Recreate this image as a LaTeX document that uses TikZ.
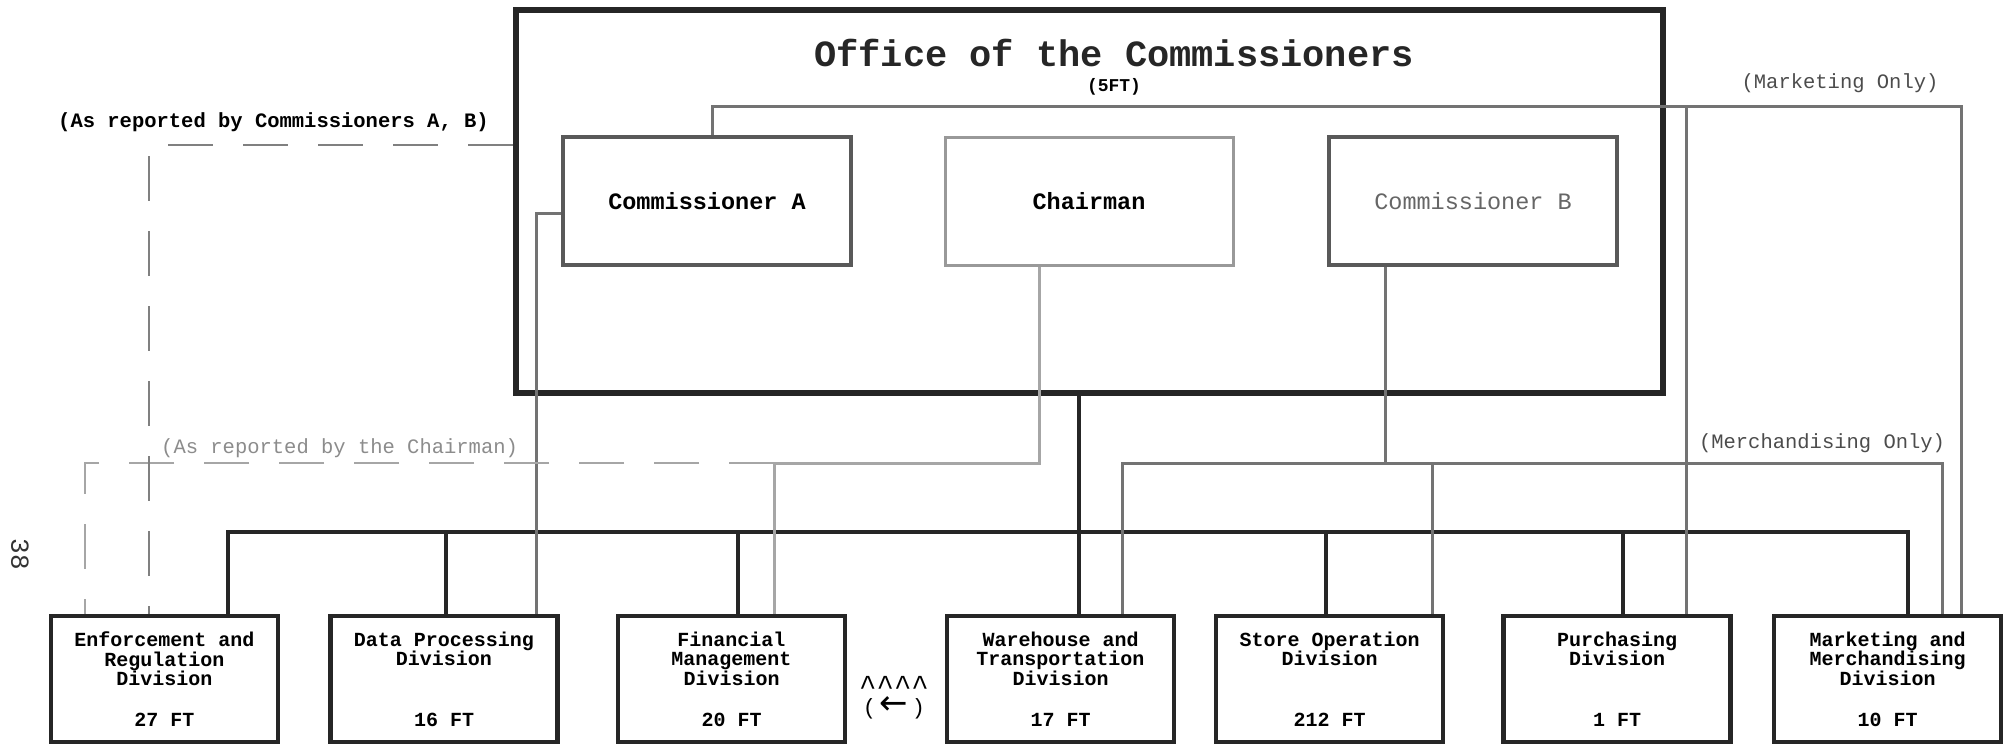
\documentclass[tikz,border=0pt]{standalone}
\usepackage{fontspec}
\setmainfont{Liberation Mono}
\newfontfamily\arrowfont{DejaVu Sans}
\usetikzlibrary{positioning}

\begin{document}
\begin{tikzpicture}
  [x=1pt,y=-1pt,
   office/.style={draw=black!85,line width=6pt,minimum width=1147pt,minimum height=383pt,inner sep=0pt},
   commbox/.style={draw=black!65,line width=4pt,minimum width=288pt,minimum height=128pt,font=\bfseries\fontsize{23.5}{26}\selectfont},
   divbox/.style={draw=black!85,line width=4.5pt,minimum width=227pt,minimum height=126pt},
   divname/.style={inner sep=0pt,align=center,font=\bfseries\fontsize{20}{19.5}\selectfont},
   divft/.style={inner sep=0pt,font=\bfseries\fontsize{20}{20}\selectfont},
   note/.style={inner sep=0pt,font=\fontsize{20.5}{22}\selectfont},
   bus/.style={draw=black!85,line width=4pt},
   commline/.style={draw=black!55,line width=3pt},
   chairline/.style={draw=black!35,line width=3pt},
   commdash/.style={draw=black!50,line width=1.5pt,dash pattern=on 45pt off 30pt},
   chairdash/.style={draw=black!35,line width=1.5pt,dash pattern=on 45pt off 30pt}]

  \path[use as bounding box,fill=white] (0,0) rectangle (2005,745);

  \node[office] (office) at (1089.3,201.5) {};
  \node[font=\bfseries\fontsize{37}{40}\selectfont,text=black!85] (title) at (1114,53) {Office of the Commissioners};
  \node[note,font=\bfseries\fontsize{18}{20}\selectfont] (staff) at (1114,87) {(5FT)};

  \node[commbox] (cA) at (707,201) {Commissioner A};
  \node[commbox,draw=black!40,line width=3pt] (chair) at (1089,201) {Chairman};
  \node[commbox,font=\fontsize{23.5}{26}\selectfont,text=black!60] (cB) at (1473,201) {Commissioner B};

  \node[divbox] (dEnf) at (164.5,679) {};
  \node[divbox] (dDP) at (444,679) {};
  \node[divbox] (dFM) at (731.5,679) {};
  \node[divbox] (dWar) at (1060.5,679) {};
  \node[divbox] (dSto) at (1329.5,679) {};
  \node[divbox] (dPur) at (1617,679) {};
  \node[divbox] (dMkt) at (1887.5,679) {};

  \node[divname,below=18pt of dEnf.north] {Enforcement and\\Regulation\\Division};
  \node[divname,below=18pt of dDP.north] {Data Processing\\Division};
  \node[divname,below=18pt of dFM.north] {Financial\\Management\\Division};
  \node[divname,below=18pt of dWar.north] {Warehouse and\\Transportation\\Division};
  \node[divname,below=18pt of dSto.north] {Store Operation\\Division};
  \node[divname,below=18pt of dPur.north] {Purchasing\\Division};
  \node[divname,below=18pt of dMkt.north] {Marketing and\\Merchandising\\Division};

  \node[divft,above=17.5pt of dEnf.south] {27 FT};
  \node[divft,above=17.5pt of dDP.south] {16 FT};
  \node[divft,above=17.5pt of dFM.south] {20 FT};
  \node[divft,above=17.5pt of dWar.south] {17 FT};
  \node[divft,above=17.5pt of dSto.south] {212 FT};
  \node[divft,above=17.5pt of dPur.south] {1 FT};
  \node[divft,above=17.5pt of dMkt.south] {10 FT};

  \node[note,font=\bfseries\fontsize{20.5}{22}\selectfont,anchor=west] (rA) at (58,122) {(As reported by Commissioners A, B)};
  \node[note,text=black!45,anchor=west] (rC) at (161,448) {(As reported by the Chairman)};
  \node[note,text=black!70] (mOnly) at (1840,83) {(Marketing Only)};
  \node[note,text=black!70] (mdOnly) at (1822,443) {(Merchandising Only)};

  \node[inner sep=0pt,align=center,font=\fontsize{22}{16}\selectfont] (back) at (894,698)
    {{\fontsize{29}{16}\selectfont\textasciicircum\textasciicircum\textasciicircum\textasciicircum}\\(\,{\arrowfont\fontsize{34}{16}\selectfont ←}\,)};
  \node[rotate=-90,font=\fontsize{26}{26}\selectfont,text=black!80] (page) at (20,554) {38};

  \coordinate (bus) at (1079,532);
  \coordinate (mktA) at (1961,106);
  \coordinate (purA) at (1686,106);
  \coordinate (fmC) at (774,463);
  \coordinate (mktB) at (1942,463);
  \coordinate (stoB) at (1432,463);

  \draw[bus] ([xshift=63.5pt]dEnf.north) |- (bus) -| ([xshift=20.5pt]dMkt.north);
  \draw[bus] (office.south -| bus) -- (dWar.north -| bus);
  \foreach \d/\dx in {dDP/1.5pt,dFM/6.5pt,dSto/-4pt,dPur/6pt}
    \draw[bus] ([xshift=\dx]\d.north) -- ([xshift=\dx]\d.north |- bus);

  \draw[commline] ([xshift=5pt]cA.north) |- (mktA) -- (dMkt.north -| mktA);
  \draw[commline] (purA) -- (dPur.north -| purA);
  \draw[commline] ([yshift=-12pt]cA.west) -| ([xshift=92pt]dDP.north);

  \draw[commline] ([xshift=61.5pt]dWar.north) |- (mktB) -- (dMkt.north -| mktB);
  \draw[commline] ([xshift=-88pt]cB.south) -- ([xshift=-88pt]cB.south |- mktB);
  \draw[commline] (stoB) -- (dSto.north -| stoB);

  \draw[chairline] ([xshift=-50pt]chair.south) |- (fmC) -- (dFM.north -| fmC);
  \draw[chairdash] (fmC) -| ([xshift=-79.5pt]dEnf.north);

  \draw[commdash] ([yshift=56.5pt]office.west) -| ([xshift=-15.5pt]dEnf.north);
\end{tikzpicture}
\end{document}
